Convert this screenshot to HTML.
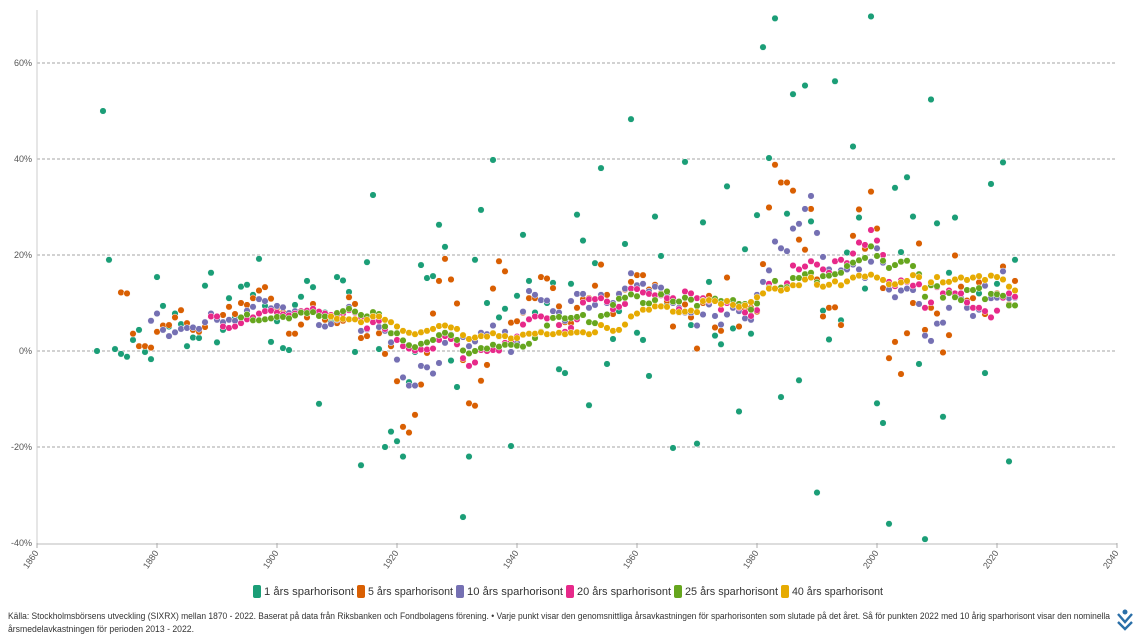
<!DOCTYPE html>
<html><head><meta charset="utf-8">
<style>
body{margin:0;background:#fff;font-family:"Liberation Sans",sans-serif;}
svg{display:block}
.tk{font-size:9px;fill:#555}
.lg{font-size:11px;fill:#333}
.ft{font-size:9px;fill:#333}
</style></head>
<body>
<svg id="chart" width="1140" height="640" viewBox="0 0 1140 640" xmlns="http://www.w3.org/2000/svg">
<g id="grid"></g>
<g id="yaxis"></g>
<g id="xaxis"></g>
<g id="dots"></g>
<g id="legend"></g>
<text class="ft" x="8" y="619" textLength="1102" lengthAdjust="spacingAndGlyphs">Källa: Stockholmsbörsens utveckling (SIXRX) mellan 1870 - 2022. Baserat på data från Riksbanken och Fondbolagens förening. • Varje punkt visar den genomsnittliga årsavkastningen för sparhorisonten som slutade på det året. Så för punkten 2022 med 10 årig sparhorisont visar den nominella</text>
<text class="ft" x="8" y="632" textLength="186" lengthAdjust="spacingAndGlyphs">årsmedelavkastningen för perioden 2013 - 2022.</text>
<g transform="translate(1125,620)">
<path d="M-7,-6 L0,2 L7,-6 M-7,2 L0,9 L7,2" stroke="#2a6fa8" stroke-width="2.4" fill="none"/>
<circle cx="0" cy="-8" r="2.5" fill="#2a6fa8"/>
</g>
</svg>
<script>
const seriesNames=["1 års sparhorisont","5 års sparhorisont","10 års sparhorisont","20 års sparhorisont","25 års sparhorisont","40 års sparhorisont"];
const seriesStart=[1870,1874,1879,1889,1894,1909];
const yTicks=[60,40,20,0,-20,-40];
const xTicks=[1860,1880,1900,1920,1940,1960,1980,2000,2020,2040];
const s1=[0,50,19,0.4,-0.6,-1.2,2.3,4.4,-0.2,-1.7,15.4,9.4,5.1,7.8,5.6,1,2.8,2.7,13.6,16.3,1.8,4.4,11,7,13.4,13.8,11.7,19.2,9.4,1.9,6.2,0.6,0.2,9.6,11.3,14.6,13.3,-11,8,6,15.4,14.7,12.3,-0.2,-23.8,18.5,32.5,0.4,-20,-16.8,-18.8,
-22,-6.5,-0.2,17.9,15.2,15.6,26.3,21.7,-2,-7.5,-34.6,-22,19,29.4,10,39.8,7,8.8,-19.8,11.5,24.2,14.6,8,4,10,14.2,-3.8,-4.6,14,28.4,23,-11.3,18.3,38.1,-2.7,2.5,8.3,22.3,48.3,3.8,2.3,-5.2,28,19.8,10,-20.2,8,
39.4,5.4,-19.3,26.8,14.4,3.2,1.4,34.3,4.7,-12.6,21.2,3.6,28.3,63.3,40.2,69.3,-9.6,28.6,53.5,-6.1,55.3,27,-29.5,8.4,2.4,56.2,6.4,20.5,42.6,27.8,13,69.7,-10.9,-15,-36,34,20.6,36.2,28,-2.7,-39.2,52.4,26.6,-13.7,16.3,27.8,11,10,9,12,-4.6,34.8,14,39.3,-23,19];
const s5=[12.2,12,3.6,1,1,0.7,4,5.3,5.4,7,8.5,5.8,4.4,4,5,7.5,7.1,7.5,9.2,7.7,10,9.6,11,12.6,13.3,10.9,9,8,3.6,3.6,5.5,7,9.8,8,6.5,7,5.8,6.3,11.2,9.8,2.7,3.1,8,3.7,-0.6,1,-6.3,
-15.8,-17,-13.3,-7,-0.4,7.8,14.6,19.2,14.9,9.9,-1.9,-10.9,-11.4,-6.2,-2.9,13,18.7,16.6,5.9,6.2,8,11,11,15.4,15.1,13.1,9.3,6,5.8,9,10.8,11,13.6,18,11.7,7.7,12,12.8,14.4,15.8,15.8,12.8,13.8,12,10.4,5.1,8,9.7,7,0.5,
10,11.5,4.9,4.2,15.3,9,5.1,8.6,9,8.2,18.1,29.9,38.8,35.1,35.1,33.4,23.2,21.1,29.6,14.9,7.2,9,9.1,5.4,17.3,24,29.5,21.3,33.2,25.5,13.1,-1.5,1.9,-4.8,3.7,10,22.4,4.4,9,7.8,-0.3,3.3,19.9,13.4,10.5,11,14.3,7.7,11,12,17.6,9.7,14.6];
const s10=[6.3,7.8,4.4,3.1,3.9,4.6,4.8,4.9,4.6,6,7.8,6.5,6,6.5,6.3,7,8.4,9.2,10.8,10.4,8.9,9.4,9.1,7.9,8.3,8.2,8.3,8.5,5.4,5.1,5.6,6.5,7.8,9.2,8,4.2,4.5,6.2,5,4.2,1.8,-1.8,-5.5,-7.2,-7.2,-3.1,-3.4,-4.7,-2.5,1.7,3.4,2,2.9,1,2,3.8,3.5,5.3,3,4,-0.2,1.7,8.2,12.5,11.7,10.6,10.5,8.3,8,6.3,10.4,11.9,11.9,9,9.6,11.7,10,10,11.9,13,16.2,13.7,14,12.4,13.4,13.2,12,10,9,8,8,5.3,7.6,9.7,7.3,5.5,7.6,9,8.3,6.8,6.5,11.7,14.4,16.8,22.8,21.4,20.8,25.5,26.5,29.6,32.3,24.6,19.6,17,16,16.8,17,18,17,15.2,18.6,21.4,18.4,12.8,11.2,12.6,13,12.7,9.8,3.2,2.1,5.7,5.9,9,11.8,11,9,7.3,8.6,13.6,11,11.1,16.6,11,11.1];
const s20=[7.2,7.2,5.1,4.8,5.1,5.8,6.6,7,7.8,8.3,8.4,8,7.6,7.4,7.8,8.3,8.4,8.8,8.2,7.8,7.5,7.5,7.8,8.5,8,7,4.7,6,6.3,4.6,3.7,2.3,1,0.5,0.1,0.3,0.3,0.5,2.3,3.1,2.5,1.4,-1.5,-3.1,-2.4,0.2,0,0.2,0.1,1.7,2,3,5.5,6.6,7.2,7.2,6.8,6.9,5.4,4,4.8,6.6,10.1,10.8,10.8,11,10.3,8.7,9.2,9.8,13,12.9,12.2,11.9,11.6,11.6,11,11,8.7,12.4,12,11,11,10.4,10.5,8.6,10,10.5,9,8,7.3,8.5,12,14,14.5,13.2,14.1,17.8,17,17.6,18.7,18,17,16.3,18.7,19,18.3,20.3,22.6,22.1,25.2,23,20,14.4,13.5,14.7,14.4,13.6,13.9,9,10.1,13.3,12,12.6,12,12,10.1,9,9,8.3,7,8.4,11.1,12,11.3];
const s25=[7,7.6,6.4,6.4,6.6,6.8,7.1,7.1,6.8,7.4,8,7.9,8.1,7.3,7.2,7,7.9,8.3,8.8,8.2,7.5,7.2,8.1,7.7,5.1,3.7,3.7,2.2,1.2,0.8,1.5,1.8,2.3,3.3,3.8,3.3,2.3,0.1,-0.5,0,0.6,0.5,1.3,0.9,1.3,1.3,1.1,0.9,1.5,2.7,4,5.3,6.9,7.1,6.8,6.9,7.1,7.5,6,5.8,7.3,7.6,9.6,10.9,11.1,11.8,11.4,10,9.9,10.6,11.8,12.4,10.3,10.3,11.1,10.7,9.4,10.5,10.6,10.9,10.4,10.4,10.6,9.8,9.8,8.6,9.9,12,13.2,14.6,13.2,13.3,15.2,15.2,16,16.3,14.3,15.6,15.7,16,16.3,17.7,18.4,18.9,19.4,21.8,19.8,18.8,17.3,17.9,18.6,18.8,17.7,16,11.3,13.7,13.5,11.1,12.1,11.2,10.6,12.7,12.7,13.1,10.8,11.9,11.8,11.5,9.5,9.5];
const s40=[7.2,6.7,6.7,6.6,6.6,6,6.5,7.2,7.2,6.5,6,5.1,4.2,3.8,3.5,3.9,4.2,4.6,5.2,5.3,4.9,4.6,3.3,2.5,2.8,3.1,3,3.7,3.1,3.1,2.6,2.7,3.4,3.6,3.6,3.9,3.5,3.5,3.8,3.5,3.8,3.9,3.9,3.5,3.9,5.4,4.8,4.2,4.4,5.5,7.2,7.8,8.6,8.6,9.3,9.3,9.2,8.2,8.1,8.2,8.4,8.1,10.4,10.6,10.4,9.8,10.4,9.6,9.2,9.5,10.2,11.2,12,13,13,12.6,12.9,13.7,13.7,14.9,15.3,13.8,13.4,13.8,14.5,13.7,14.5,15.3,15.7,15.5,15.9,15.3,14.8,13.9,13.9,14.3,14.6,15.8,15.4,13.1,14.3,15.4,14.3,14.4,14.9,15.3,14.8,15.3,15.6,14.8,15.7,15.4,14.9,13.4,12.6];

const colors=["#1b9e77","#d95f02","#7570b3","#e7298a","#66a61e","#e6ab02"];
const allSeries=[s1,s5,s10,s20,s25,s40];
const NS="http://www.w3.org/2000/svg";
const X0=37,X1=1117,Y0=10,Y1=543;
function xs(yr){return X0+(yr-1860)/(2040-1860)*(X1-X0);}
function ys(v){return 351-v*4.8;}
function mk(tag,attrs,parent){const e=document.createElementNS(NS,tag);for(const k in attrs)e.setAttribute(k,attrs[k]);parent.appendChild(e);return e;}
const grid=document.getElementById('grid'),yax=document.getElementById('yaxis'),xax=document.getElementById('xaxis'),dots=document.getElementById('dots'),leg=document.getElementById('legend');
yTicks.forEach(t=>{
  const y=ys(t);
  if(t!==-40){const l=mk('line',{x1:X0,x2:X1,y1:y,y2:y,stroke:'#888','stroke-width':0.8,'stroke-dasharray':'3,2'},grid);
  
  }
  const tx=mk('text',{x:X0-5,y:y+3,'text-anchor':'end',class:'tk'},yax);tx.textContent=t+'%';
  
  
});
const yl=mk('line',{x1:X0,x2:X0,y1:Y0,y2:Y1,stroke:'#ccc','stroke-width':1},yax);


const xl=mk('line',{x1:X0,x2:X1,y1:Y1+1,y2:Y1+1,stroke:'#ddd','stroke-width':2},xax);


xTicks.forEach(t=>{
  const x=xs(t);
  mk('line',{x1:x,x2:x,y1:Y1,y2:Y1+5,stroke:'#999','stroke-width':0.8},xax);
  const tx=mk('text',{x:x+2,y:Y1+10,'text-anchor':'end',class:'tk',transform:`rotate(-55 ${x+2} ${Y1+10})`},xax);tx.textContent=t;
  
  
});
allSeries.forEach((arr,si)=>{
  const g=mk('g',{},dots);
  
  
  arr.forEach((v,i)=>{
    const c=mk('circle',{cx:xs(seriesStart[si]+i),cy:ys(v),r:3.3,fill:colors[si],stroke:'#fff','stroke-width':0.5},g);
    
    
  });
});
const legX=[253,357,456,566,674,781];
const legEnd=[354,453,563,671,778,883];
seriesNames.forEach((n,i)=>{
  const g=mk('g',{},leg);
  
  
  mk('rect',{x:legX[i],y:585,width:8,height:13,rx:2,fill:colors[i]},g);
  const t=mk('text',{x:legX[i]+11,y:595,class:'lg',textLength:legEnd[i]-legX[i]-11,lengthAdjust:'spacingAndGlyphs'},g);t.textContent=n;
});
</script>
</body></html>
